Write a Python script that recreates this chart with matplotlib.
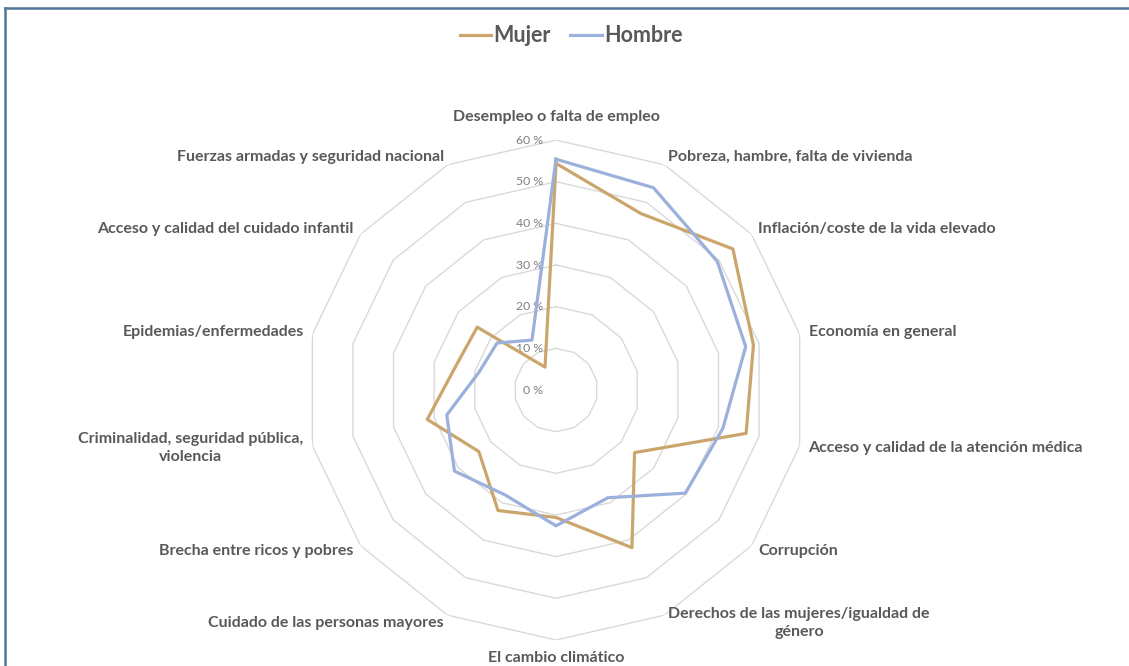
import numpy as np
import matplotlib
matplotlib.use("Agg")
import matplotlib.pyplot as plt
from matplotlib.lines import Line2D

categories = [
    "Desempleo o falta de empleo",
    "Pobreza, hambre, falta de vivienda",
    "Inflación/coste de la vida elevado",
    "Economía en general",
    "Acceso y calidad de la atención médica",
    "Corrupción",
    "Derechos de las mujeres/igualdad de\ngénero",
    "El cambio climático",
    "Cuidado de las personas mayores",
    "Brecha entre ricos y pobres",
    "Criminalidad, seguridad pública,\nviolencia",
    "Epidemias/enfermedades",
    "Acceso y calidad del cuidado infantil",
    "Fuerzas armadas y seguridad nacional",
]
mujer = [54.4, 47.0, 54.3, 48.6, 46.8, 24.1, 42.0, 30.6, 32.1, 23.7, 31.7, 24.8, 24.2, 6.1]
hombre = [55.4, 53.9, 49.5, 46.7, 41.1, 39.7, 28.7, 32.6, 28.0, 31.2, 26.9, 19.0, 18.1, 13.3]
levels = [0, 10, 20, 30, 40, 50, 60]

col_mujer = "#CBA66C"
col_hombre = "#9BB0DA"
txt = "#595959"

plt.rcParams['font.family'] = ['Lato', 'DejaVu Sans']

fig = plt.figure(figsize=(11.29, 6.66), dpi=100)
ax = fig.add_axes([0.2711, 0.0390, 0.4428, 0.7508], polar=True)
ax.set_theta_zero_location('N')
ax.set_theta_direction(-1)
ax.set_ylim(0, 60)
ax.axis('off')

n = len(categories)
theta = np.arange(n) * 2 * np.pi / n
theta_c = np.append(theta, theta[0])

# rings (no spokes, like the excel radar)
for lv in levels[1:]:
    ax.plot(theta_c, [lv] * (n + 1), color="#D9D9D9", lw=1.0, zorder=1)

for lv in levels:
    ax.annotate("%d %%" % lv, xy=(0, lv), xytext=(-13, 0), textcoords='offset pixels',
                ha='right', va='center', fontsize=8.8, color="#7F7F7F", zorder=2)

ax.plot(theta_c, mujer + mujer[:1], color=col_mujer, lw=2.3, zorder=3, label="Mujer")
ax.plot(theta_c, hombre + hombre[:1], color=col_hombre, lw=2.3, zorder=4, label="Hombre")

# category labels just outside the outer ring
for i, lab in enumerate(categories):
    t = theta[i]
    s, c = np.sin(t), np.cos(t)
    dx, dy = 9 * s, 9 * c
    if abs(s) < 0.05:
        ha = 'center'
        dy = 23 if c > 0 else -18
    elif s > 0:
        ha = 'left'
    else:
        ha = 'right'
    ax.annotate(lab, xy=(t, 60), xytext=(dx, dy), textcoords='offset pixels',
                ha=ha, va='center', multialignment='center', fontsize=11.5,
                fontweight='bold', color=txt, linespacing=1.35, annotation_clip=False)

leg = fig.legend(loc='center', bbox_to_anchor=(0.506, 0.946), ncol=2, frameon=False,
                 prop={'size': 15.5, 'weight': 'bold'}, handlelength=1.45,
                 handletextpad=0.1, columnspacing=0.9)
for t in leg.get_texts():
    t.set_color(txt)

# frame of the original screenshot (top and left edges)
fig.add_artist(Line2D([5 / 1129, 1], [1 - 8 / 666, 1 - 8 / 666], transform=fig.transFigure,
                      color="#52759A", lw=1.8))
fig.add_artist(Line2D([5 / 1129, 5 / 1129], [0, 1 - 8 / 666], transform=fig.transFigure,
                      color="#52759A", lw=1.8))

fig.savefig("out.png", dpi=100, facecolor="white")
